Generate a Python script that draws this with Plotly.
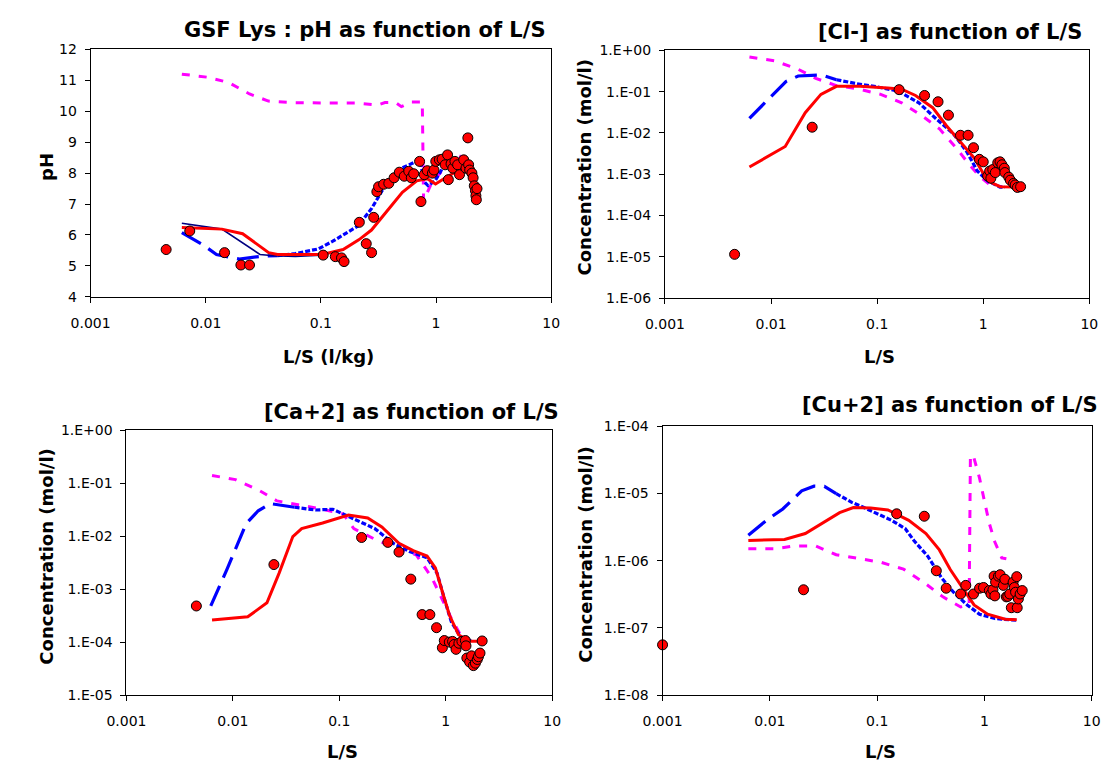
import plotly.graph_objects as go

W, H = 1110, 769

# ---------------- pH panel ----------------
ph_red_x = [0.0062, 0.0138, 0.0209, 0.0352, 0.042, 0.0636, 0.103, 0.156, 0.215, 0.275, 0.34, 0.418, 0.51, 0.68, 0.84, 0.99, 1.27, 1.6, 2.0]
ph_red_y = [6.24, 6.19, 6.04, 5.43, 5.37, 5.36, 5.37, 5.53, 5.85, 6.16, 6.59, 7.01, 7.38, 7.75, 7.82, 7.65, 7.90, 8.10, 8.20]
ph_navy_x = [0.0062, 0.0138, 0.0296, 0.039, 0.06, 0.1]
ph_navy_y = [6.38, 6.19, 5.37, 5.33, 5.31, 5.35]
ph_blue_x = [0.0062, 0.0094, 0.0124, 0.0196, 0.0316, 0.042, 0.06, 0.095, 0.127, 0.21, 0.275, 0.34, 0.36, 0.51, 0.72, 0.8, 0.85, 0.98, 1.2, 1.9]
ph_blue_y = [6.08, 5.69, 5.37, 5.22, 5.32, 5.33, 5.40, 5.55, 5.80, 6.29, 6.85, 7.43, 7.60, 8.17, 8.43, 7.70, 7.60, 7.75, 8.3, 8.3]
ph_pink_x = [0.0062, 0.0104, 0.0158, 0.024, 0.035, 0.0556, 0.1, 0.2, 0.31, 0.36, 0.447, 0.5, 0.61, 0.76, 0.78, 0.92, 1.5, 1.95]
ph_pink_y = [11.2, 11.1, 10.93, 10.56, 10.33, 10.28, 10.27, 10.27, 10.2, 10.28, 10.28, 10.15, 10.3, 10.3, 7.1, 7.7, 8.6, 8.4]
ph_obs_x = [0.00453, 0.00726, 0.01457, 0.0202, 0.024, 0.1047, 0.1335, 0.151, 0.159, 0.2157, 0.2478, 0.2757, 0.2876,
            0.3064, 0.317, 0.3507, 0.389, 0.4325, 0.48, 0.53, 0.58, 0.61, 0.64, 0.72, 0.74, 0.79, 0.84, 0.93, 0.96,
            0.995, 1.07, 1.13, 1.2, 1.26, 1.28, 1.35, 1.4, 1.46, 1.54, 1.6, 1.74, 1.82, 1.89, 1.92, 1.96, 2.05, 2.1,
            2.15, 2.2, 2.22, 2.24, 2.27]
ph_obs_y = [5.53, 6.13, 5.43, 5.03, 5.03, 5.35, 5.30, 5.26, 5.14, 6.41, 5.72, 5.43, 6.57,
            7.40, 7.56, 7.64, 7.67, 7.85, 8.03, 7.90, 8.06, 7.85, 7.98, 8.38, 7.08, 7.95, 8.08, 8.00, 8.10,
            8.38, 8.43, 8.45, 8.27, 8.59, 7.79, 8.30, 8.16, 8.38, 8.27, 7.95, 8.43, 8.16, 9.14, 8.27, 8.10, 8.00, 7.85,
            7.59, 7.43, 7.27, 7.14, 7.50]

# ---------------- Cl- panel ----------------
cl_red_x = [0.00625, 0.0136, 0.021, 0.0295, 0.0413, 0.069, 0.126, 0.17, 0.23, 0.334, 0.45, 0.61, 0.82, 0.99, 1.19, 1.44, 2.15]
cl_red_y = [1.5e-3, 4.7e-3, 0.031, 0.086, 0.135, 0.135, 0.123, 0.115, 0.081, 0.041, 0.015, 6.1e-3, 2.5e-3, 1.1e-3, 6.3e-4, 5.0e-4, 4.9e-4]
cl_blue_x = [0.00625, 0.0116, 0.0138, 0.018, 0.0264, 0.03, 0.0413, 0.064, 0.101, 0.158, 0.247, 0.36, 0.523, 0.70, 0.88, 1.1, 1.44, 1.6]
cl_blue_y = [0.0226, 0.112, 0.176, 0.24, 0.255, 0.255, 0.195, 0.156, 0.13, 0.103, 0.054, 0.022, 9.6e-3, 3.5e-3, 1.2e-3, 6.9e-4, 4.9e-4, 4.9e-4]
cl_pink_x = [0.00625, 0.0107, 0.018, 0.0264, 0.0413, 0.064, 0.108, 0.17, 0.265, 0.387, 0.563, 0.74, 0.92, 1.14, 1.5]
cl_pink_y = [0.69, 0.56, 0.35, 0.21, 0.14, 0.119, 0.086, 0.054, 0.026, 0.0126, 4.2e-3, 1.7e-3, 9.1e-4, 5.7e-4, 5.0e-4]
cl_obs_x = [0.00453, 0.0244, 0.161, 0.28, 0.375, 0.47, 0.61, 0.72, 0.81, 0.92, 1.0, 1.1, 1.15, 1.18, 1.23, 1.3,
            1.37, 1.44, 1.5, 1.58, 1.6, 1.74, 1.8, 1.93, 2.0, 2.1, 2.25]
cl_obs_y = [1.15e-5, 0.0138, 0.112, 0.081, 0.057, 0.027, 8.8e-3, 8.8e-3, 4.4e-3, 2.3e-3, 2.0e-3, 9.1e-4, 1.2e-3, 8.0e-4, 1.3e-3, 1.1e-3,
            1.9e-3, 2.0e-3, 1.7e-3, 1.4e-3, 1.1e-3, 8.5e-4, 7.2e-4, 6.0e-4, 5.5e-4, 4.8e-4, 5.0e-4]

# ---------------- Ca+2 panel ----------------
ca_red_x = [0.00637, 0.0138, 0.0209, 0.0272, 0.0366, 0.0443, 0.0697, 0.122, 0.185, 0.251, 0.364, 0.495, 0.668, 0.8, 0.933, 1.085, 1.32, 1.66, 2.1]
ca_red_y = [2.6e-4, 3.0e-4, 5.5e-4, 2.0e-3, 9.8e-3, 0.0138, 0.0176, 0.025, 0.022, 0.0148, 7.3e-3, 5.3e-3, 4.2e-3, 2.5e-3, 8.7e-4, 3.2e-4, 1.38e-4, 1.04e-4, 1.04e-4]
ca_blue_x = [0.0062, 0.0088, 0.0133, 0.0173, 0.0225, 0.038, 0.0597, 0.087, 0.127, 0.216, 0.322, 0.457, 0.668, 0.83, 0.97, 1.13, 1.37, 1.75]
ca_blue_y = [4.8e-4, 2.35e-3, 0.017, 0.030, 0.041, 0.035, 0.031, 0.032, 0.0228, 0.0138, 7.3e-3, 5.1e-3, 3.9e-3, 2.0e-3, 6.6e-4, 2.4e-4, 1.28e-4, 1.04e-4]
ca_pink_x = [0.00637, 0.0106, 0.018, 0.026, 0.041, 0.0697, 0.109, 0.137, 0.216, 0.34, 0.53, 0.74, 0.89, 1.13, 1.37, 1.66]
ca_pink_y = [0.139, 0.116, 0.071, 0.046, 0.039, 0.032, 0.026, 0.0138, 8.7e-3, 6.0e-3, 4.4e-3, 1.65e-3, 7.6e-4, 2.8e-4, 1.38e-4, 1.04e-4]
ca_obs_x = [0.00454, 0.0243, 0.162, 0.286, 0.364, 0.47, 0.6, 0.71, 0.82, 0.93, 0.97, 1.08, 1.16, 1.2, 1.25, 1.33,
            1.42, 1.53, 1.55, 1.58, 1.68, 1.75, 1.82, 1.9, 1.98, 2.03, 2.1, 2.2]
ca_obs_y = [4.8e-4, 2.9e-3, 9.4e-3, 7.6e-3, 5.0e-3, 1.54e-3, 3.3e-4, 3.3e-4, 1.87e-4, 7.8e-5, 1.07e-4, 1.0e-4, 1.03e-4, 9.0e-5, 7.3e-5, 9.5e-5,
            1.03e-4, 1.07e-4, 8.5e-5, 5.0e-5, 4.2e-5, 5.5e-5, 3.6e-5, 4.0e-5, 4.7e-5, 5.3e-5, 6.2e-5, 1.05e-4]

# ---------------- Cu+2 panel ----------------
cu_red_x = [0.0063, 0.0137, 0.0214, 0.0309, 0.0447, 0.06, 0.087, 0.126, 0.197, 0.285, 0.38, 0.48, 0.6, 0.8, 1.07, 1.56, 2.0]
cu_red_y = [2.0e-6, 2.08e-6, 2.54e-6, 3.6e-6, 5.2e-6, 6.2e-6, 6.1e-6, 5.7e-6, 4.0e-6, 2.54e-6, 1.45e-6, 7.4e-7, 4.3e-7, 2.2e-7, 1.6e-7, 1.35e-7, 1.32e-7]
cu_blue_x = [0.0063, 0.0095, 0.0132, 0.0198, 0.0258, 0.0322, 0.0415, 0.058, 0.0752, 0.094, 0.136, 0.183, 0.22, 0.296, 0.397, 0.515, 0.69, 0.9, 1.25, 1.45, 2.0]
cu_blue_y = [2.4e-6, 4.1e-6, 5.9e-6, 1.1e-5, 1.29e-5, 1.28e-5, 1.0e-5, 7.4e-6, 6.2e-6, 5.2e-6, 4.0e-6, 3.0e-6, 2.0e-6, 1.17e-6, 5.6e-7, 3.4e-7, 2.2e-7, 1.6e-7, 1.38e-7, 1.35e-7, 1.3e-7]
cu_pink_x = [0.0063, 0.011, 0.0171, 0.0267, 0.0415, 0.07, 0.108, 0.176, 0.275, 0.41, 0.6, 0.72, 0.74, 0.79, 0.9, 1.0, 1.11, 1.25, 1.45, 1.6]
cu_pink_y = [1.51e-6, 1.51e-6, 1.66e-6, 1.66e-6, 1.23e-6, 1.07e-6, 9.5e-7, 7.5e-7, 4.7e-7, 2.9e-7, 2.05e-7, 2.2e-7, 3.7e-5, 3.6e-5, 1.7e-5, 7.7e-6, 3.6e-6, 1.9e-6, 1.1e-6, 1.07e-6]
cu_obs_x = [0.001, 0.0206, 0.152, 0.275, 0.356, 0.44, 0.6, 0.67, 0.79, 0.9, 0.98, 1.11, 1.15, 1.2, 1.23, 1.25, 1.27,
            1.35, 1.4, 1.5, 1.55, 1.6, 1.65, 1.72, 1.78, 1.85, 1.9, 1.95, 2.0, 2.02, 2.07, 2.15, 2.25]
cu_obs_y = [5.6e-8, 3.7e-7, 5.0e-6, 4.6e-6, 7.1e-7, 3.9e-7, 3.2e-7, 4.3e-7, 3.2e-7, 3.9e-7, 4.0e-7, 3.6e-7, 3.2e-7, 3.7e-7, 5.9e-7, 3.0e-7, 4.8e-7,
            5.9e-7, 6.2e-7, 4.3e-7, 5.3e-7, 2.9e-7, 2.95e-7, 3.2e-7, 2.0e-7, 4.8e-7, 4.0e-7, 3.4e-7, 5.8e-7, 2.0e-7, 2.7e-7, 3.2e-7, 3.6e-7]

# ---------------- tick labels ----------------
x_tickvals = [0.001, 0.01, 0.1, 1, 10]
x_ticktext = ["0.001", "0.01", "0.1", "1", "10"]
ph_tickvals = [4, 5, 6, 7, 8, 9, 10, 11, 12]
cl_exponents = [-6, -5, -4, -3, -2, -1, 0]
ca_exponents = [-5, -4, -3, -2, -1, 0]
cu_exponents = [-8, -7, -6, -5, -4]

titles = ["GSF Lys : pH as function of L/S", "[Cl-] as function of L/S",
          "[Ca+2] as function of L/S", "[Cu+2] as function of L/S"]
x_titles = ["L/S (l/kg)", "L/S", "L/S", "L/S"]
y_titles = ["pH", "Concentration (mol/l)", "Concentration (mol/l)", "Concentration (mol/l)"]

RED, BLUE, PINK, NAVY = "#FF0000", "#0000FF", "#FF00FF", "#000080"
FONT = "Verdana, DejaVu Sans, sans-serif"


def sci_label(e):
    return "1.E+00" if e == 0 else "1.E-%02d" % (-e)


# plot-area boxes in pixels: left, right, top, bottom
boxes = [(72.5, 545.4, 42.3, 295.0),
         (662.3, 1098.0, 43.3, 296.3),
         (109.3, 546.4, 431.0, 701.7),
         (659.8, 1100.5, 427.3, 701.7)]

fig = go.Figure()


def axis_ids(i):
    return ("x" if i == 0 else "x%d" % (i + 1)), ("y" if i == 0 else "y%d" % (i + 1))


def add_line(i, xs, ys, color, width, dash):
    xa, ya = axis_ids(i)
    fig.add_trace(go.Scatter(x=xs, y=ys, mode="lines", xaxis=xa, yaxis=ya,
                             line=dict(color=color, width=width, dash=dash),
                             showlegend=False, hoverinfo="skip"))


def add_blue(i, xs, ys, xcut):
    # sparse early part drawn with long dashes, dense later part with short dashes
    n = sum(1 for v in xs if v <= xcut)
    add_line(i, xs[:n], ys[:n], BLUE, 3.2, "22px,9px")
    add_line(i, xs[n - 1:], ys[n - 1:], BLUE, 3.2, "5px,2px")


def add_obs(i, xs, ys):
    xa, ya = axis_ids(i)
    fig.add_trace(go.Scatter(x=xs, y=ys, mode="markers", xaxis=xa, yaxis=ya, cliponaxis=False,
                             marker=dict(color=RED, size=10, line=dict(color="black", width=1)),
                             showlegend=False, hoverinfo="skip"))


PINK_DASH = "8px,9px"

# pH
add_line(0, ph_pink_x, ph_pink_y, PINK, 3, PINK_DASH)
add_blue(0, ph_blue_x, ph_blue_y, 0.042)
add_line(0, ph_navy_x, ph_navy_y, NAVY, 1.6, "solid")
add_line(0, ph_red_x, ph_red_y, RED, 3, "solid")
add_obs(0, ph_obs_x, ph_obs_y)
# Cl-
add_line(1, cl_pink_x, cl_pink_y, PINK, 3, PINK_DASH)
add_blue(1, cl_blue_x, cl_blue_y, 0.0413)
add_line(1, cl_red_x, cl_red_y, RED, 3, "solid")
add_obs(1, cl_obs_x, cl_obs_y)
# Ca+2
add_line(2, ca_pink_x, ca_pink_y, PINK, 3, PINK_DASH)
add_blue(2, ca_blue_x, ca_blue_y, 0.038)
add_line(2, ca_red_x, ca_red_y, RED, 3, "solid")
add_obs(2, ca_obs_x, ca_obs_y)
# Cu+2
add_line(3, cu_pink_x, cu_pink_y, PINK, 3, PINK_DASH)
add_blue(3, cu_blue_x, cu_blue_y, 0.0415)
add_line(3, cu_red_x, cu_red_y, RED, 3, "solid")
add_obs(3, cu_obs_x, cu_obs_y)

common = dict(showline=True, linecolor="black", linewidth=1, mirror=True,
              ticks="outside", ticklen=5, tickcolor="black", tickwidth=1,
              showgrid=False, zeroline=False,
              tickfont=dict(family=FONT, size=14, color="black"))

y_specs = [
    dict(type="linear", range=[4, 12], tickvals=ph_tickvals, ticktext=[str(v) for v in ph_tickvals]),
    dict(type="log", range=[-6, 0], tickvals=[10.0 ** e for e in cl_exponents], ticktext=[sci_label(e) for e in cl_exponents]),
    dict(type="log", range=[-5, 0], tickvals=[10.0 ** e for e in ca_exponents], ticktext=[sci_label(e) for e in ca_exponents]),
    dict(type="log", range=[-8, -4], tickvals=[10.0 ** e for e in cu_exponents], ticktext=[sci_label(e) for e in cu_exponents]),
]

layout = dict(width=W, height=H, margin=dict(l=0, r=0, t=0, b=0),
              paper_bgcolor="white", plot_bgcolor="white", showlegend=False)
annotations = []
title_pos = [(542, 22), (1093, 25), (555, 413), (1109, 405)]
xtitle_pos = [(317, 356), (883, 356), (331, 759), (883.5, 759)]
ytitle_pos = [(27, 162), (580, 163), (27, 560), (580.5, 558)]

for i, (l, r, t, b) in enumerate(boxes):
    xa, ya = axis_ids(i)
    xkey = "xaxis" if i == 0 else "xaxis%d" % (i + 1)
    ykey = "yaxis" if i == 0 else "yaxis%d" % (i + 1)
    layout[xkey] = dict(common, type="log", range=[-3, 1], tickvals=x_tickvals, ticktext=x_ticktext,
                        domain=[l / W, r / W], anchor=ya, ticklabelstandoff=8)
    layout[ykey] = dict(common, domain=[1 - b / H, 1 - t / H], anchor=xa, ticklabelstandoff=5, **y_specs[i])

    tx, ty = title_pos[i]
    annotations.append(dict(text="<b>%s</b>" % titles[i], x=tx / W, y=1 - ty / H, xref="paper", yref="paper",
                            xanchor="right", yanchor="middle", showarrow=False,
                            font=dict(family=FONT, size=21, color="black")))
    ax, ay = xtitle_pos[i]
    annotations.append(dict(text="<b>%s</b>" % x_titles[i], x=ax / W, y=1 - ay / H, xref="paper", yref="paper",
                            xanchor="center", yanchor="middle", showarrow=False,
                            font=dict(family=FONT, size=18, color="black")))
    yx, yy = ytitle_pos[i]
    annotations.append(dict(text="<b>%s</b>" % y_titles[i], x=yx / W, y=1 - yy / H, xref="paper", yref="paper",
                            xanchor="center", yanchor="middle", showarrow=False, textangle=-90,
                            font=dict(family=FONT, size=18, color="black")))

layout["annotations"] = annotations
fig.update_layout(**layout)
fig.write_html("out.html")
